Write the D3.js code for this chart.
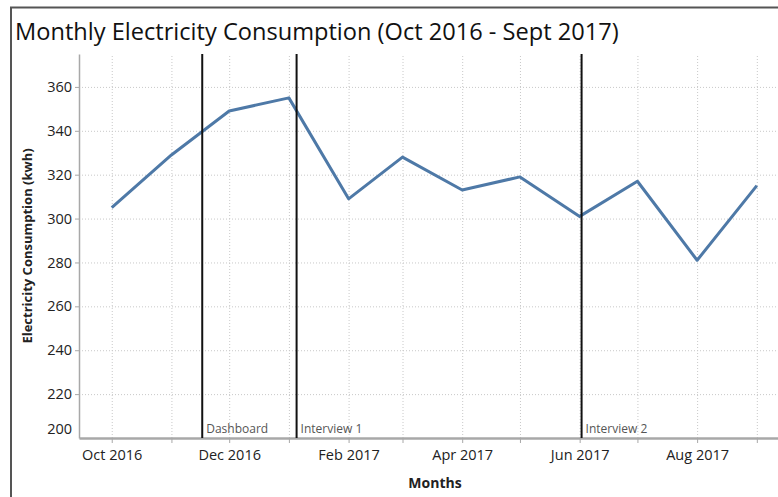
<!DOCTYPE html>
<html lang="en">
<head>
    <meta charset="UTF-8">
    <title>Monthly Electricity Consumption</title>
    <script src="https://d3js.org/d3.v7.min.js"></script>
    <style>
        body { margin: 0; background: white; font-family: "Open Sans", sans-serif; }
        svg { display: block; }
        .grid line { stroke: #c8c8c8; stroke-dasharray: 1,2; }
        .grid .domain { display: none; }
        .axis text { font-size: 14.5px; fill: #222; font-family: "Open Sans", sans-serif; }
        .axis line, .axis path { stroke: #a8a8a8; }
    </style>
</head>
<body>
    <svg id="chart"></svg>

    <script>
        // data
        const months = ["2016-10", "2016-11", "2016-12", "2017-01", "2017-02", "2017-03",
                        "2017-04", "2017-05", "2017-06", "2017-07", "2017-08", "2017-09"];
        const consumption = [305, 329, 349, 355, 309, 328, 313, 319, 301, 317, 281, 315];

        const eventNames = ["Dashboard", "Interview 1", "Interview 2"];
        const eventDates = ["2016-11-17", "2017-01-05", "2017-06-02"];

        const yTicks = [200, 220, 240, 260, 280, 300, 320, 340, 360];
        const xTickLabels = ["Oct 2016", "Dec 2016", "Feb 2017", "Apr 2017", "Jun 2017", "Aug 2017"];

        const width = 778, height = 497;
        const margin = { left: 79, right: 0, top: 54, bottom: 59 };

        const parseMonth = d3.timeParse("%Y-%m");
        const parseDay = d3.timeParse("%Y-%m-%d");
        const fmt = d3.timeFormat("%b %Y");

        const data = months.map((m, i) => ({ date: parseMonth(m), value: consumption[i] }));
        const events = eventNames.map((n, i) => ({ name: n, date: parseDay(eventDates[i]) }));

        const svg = d3.select("#chart").attr("width", width).attr("height", height);

        // outer frame (cut off at right and bottom like the screenshot)
        svg.append("path")
            .attr("d", `M11,${height} V7.5 H${width}`)
            .attr("fill", "none")
            .attr("stroke", "#555")
            .attr("stroke-width", 2);

        svg.append("text")
            .attr("x", 15)
            .attr("y", 40)
            .attr("font-size", "23.6px")
            .attr("fill", "#111")
            .text("Monthly Electricity Consumption (Oct 2016 - Sept 2017)");

        const x = d3.scaleTime()
            .domain([new Date(2016, 8, 14), new Date(2017, 8, 12)])
            .range([margin.left, width - margin.right]);

        const y = d3.scaleLinear()
            .domain([200, 375])
            .range([height - margin.bottom, margin.top]);

        const allMonths = d3.timeMonth.range(new Date(2016, 9, 1), new Date(2017, 9, 1));

        // gridlines
        svg.append("g")
            .attr("class", "grid")
            .attr("transform", `translate(0,${height - margin.bottom})`)
            .call(d3.axisBottom(x).tickValues(allMonths).tickSize(-(height - margin.top - margin.bottom)).tickFormat(""));

        svg.append("g")
            .attr("class", "grid")
            .attr("transform", `translate(${margin.left},0)`)
            .call(d3.axisLeft(y).tickValues(yTicks.slice(1)).tickSize(-(width - margin.left - margin.right)).tickFormat(""));

        // axes
        const xAxis = svg.append("g")
            .attr("class", "axis")
            .attr("transform", `translate(0,${height - margin.bottom})`)
            .call(d3.axisBottom(x)
                .tickValues(allMonths)
                .tickSize(5)
                .tickSizeOuter(0)
                .tickPadding(7)
                .tickFormat(d => xTickLabels.includes(fmt(d)) ? fmt(d) : ""));
        xAxis.select(".domain").attr("stroke-width", 2.5);

        const yAxis = svg.append("g")
            .attr("class", "axis")
            .attr("transform", `translate(${margin.left},0)`)
            .call(d3.axisLeft(y).tickValues(yTicks).tickSize(4).tickSizeOuter(0).tickPadding(3));
        yAxis.select(".domain").attr("stroke-width", 1.5);
        // bottom label is nudged up above the x axis, no tick mark
        yAxis.selectAll(".tick").filter(d => d === yTicks[0]).each(function () {
            d3.select(this).select("line").remove();
            d3.select(this).select("text").attr("dy", "-0.3em");
        });

        // axis titles
        svg.append("text")
            .attr("transform", `translate(32,${(margin.top + height - margin.bottom) / 2}) rotate(-90)`)
            .attr("text-anchor", "middle")
            .attr("font-size", "13px")
            .attr("font-weight", "bold")
            .attr("fill", "#222")
            .text("Electricity Consumption (kwh)");

        svg.append("text")
            .attr("x", 435)
            .attr("y", 488)
            .attr("text-anchor", "middle")
            .attr("font-size", "14px")
            .attr("font-weight", "bold")
            .attr("fill", "#222")
            .text("Months");

        // consumption line
        const line = d3.line().x(d => x(d.date)).y(d => y(d.value));
        svg.append("path")
            .datum(data)
            .attr("d", line)
            .attr("fill", "none")
            .attr("stroke", "#4e79a7")
            .attr("stroke-width", 3)
            .attr("stroke-linejoin", "round");

        // reference lines for events
        const ev = svg.append("g").selectAll("g").data(events).enter().append("g");
        ev.append("line")
            .attr("x1", d => x(d.date))
            .attr("x2", d => x(d.date))
            .attr("y1", margin.top)
            .attr("y2", height - margin.bottom)
            .attr("stroke", "#111")
            .attr("stroke-width", 2);
        ev.append("text")
            .attr("x", d => x(d.date) + 4)
            .attr("y", height - margin.bottom - 5)
            .attr("font-size", "12px")
            .attr("fill", "#555")
            .text(d => d.name);
    </script>
</body>
</html>
